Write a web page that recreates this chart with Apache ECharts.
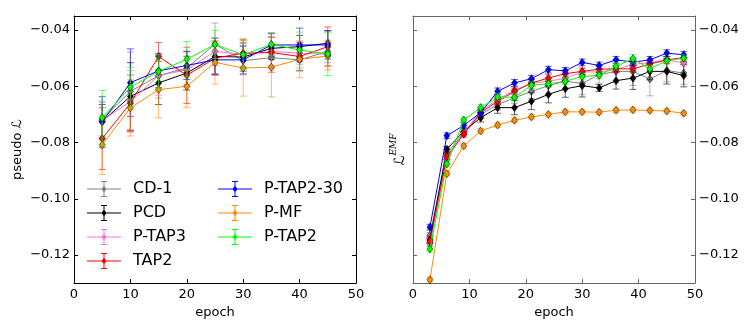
<!DOCTYPE html>
<html>
<head>
<meta charset="utf-8">
<script src="https://cdn.jsdelivr.net/npm/echarts@6/dist/echarts.min.js"></script>
<style>
  html, body { margin: 0; padding: 0; background: #fff; }
  #chart { width: 747px; height: 324px; }
</style>
</head>
<body>
<div id="chart"></div>
<script>
// series names, in plotting order
const names = ['CD-1', 'PCD', 'P-TAP3', 'TAP2', 'P-TAP2-30', 'P-MF', 'P-TAP2'];
const colors = ['#808080', '#000000', '#ff70d0', '#ff0000', '#0000ff', '#ff8c00', '#00ff00'];

// left panel: pseudo likelihood
const epochsLeft = [5, 10, 15, 20, 25, 30, 35, 40, 45];
const pseudoCD1 = [-0.0717, -0.0618, -0.0562, -0.0535, -0.0450, -0.0509, -0.0498, -0.0506, -0.0476];
const pseudoPCD = [-0.0725, -0.0636, -0.0588, -0.0553, -0.0494, -0.0496, -0.0465, -0.0459, -0.0447];
const pseudoPTAP3 = [-0.0722, -0.0654, -0.0562, -0.0541, -0.0476, -0.0486, -0.0476, -0.0482, -0.0486];
const pseudoTAP2 = [-0.0786, -0.0660, -0.0494, -0.0561, -0.0500, -0.0482, -0.0480, -0.0494, -0.0459];
const pseudoPTAP230 = [-0.0727, -0.0587, -0.0545, -0.0526, -0.0506, -0.0506, -0.0453, -0.0453, -0.0453];
const pseudoPMF = [-0.0808, -0.0677, -0.0612, -0.0600, -0.0515, -0.0535, -0.0532, -0.0504, -0.0492];
const pseudoPTAP2 = [-0.0712, -0.0603, -0.0547, -0.0504, -0.0451, -0.0488, -0.0451, -0.0471, -0.0485];

const pseudoErrCD1 = [0.006, 0.014, 0.008, 0.006, 0.0075, 0.005, 0.004, 0.004, 0.004];
const pseudoErrPCD = [0.006, 0.012, 0.0077, 0.006, 0.0065, 0.005, 0.004, 0.004, 0.0045];
const pseudoErrPTAP3 = [0.007, 0.011, 0.007, 0.006, 0.005, 0.005, 0.005, 0.004, 0.004];
const pseudoErrTAP2 = [0.011, 0.010, 0.005, 0.010, 0.006, 0.005, 0.007, 0.005, 0.007];
const pseudoErrPTAP230 = [0.009, 0.012, 0.006, 0.005, 0.005, 0.005, 0.004, 0.006, 0.005];
const pseudoErrPMF = [0.0105, 0.010, 0.010, 0.0076, 0.0077, 0.010, 0.0106, 0.0066, 0.005];
const pseudoErrPTAP2 = [0.0097, 0.007, 0.006, 0.0063, 0.005, 0.005, 0.004, 0.0064, 0.0077];

// right panel: EMF likelihood
const epochsRight = [3, 6, 9, 12, 15, 18, 21, 24, 27, 30, 33, 36, 39, 42, 45, 48];
const emfCD1 = [-0.1130, -0.0840, -0.0765, -0.0700, -0.0665, -0.0641, -0.0618, -0.0598, -0.0582, -0.0590, -0.0559, -0.0547, -0.0547, -0.0574, -0.0544, -0.0553];
const emfPCD = [-0.1146, -0.0824, -0.0760, -0.0712, -0.0676, -0.0676, -0.0653, -0.0629, -0.0609, -0.0598, -0.0606, -0.0580, -0.0571, -0.0547, -0.0547, -0.0562];
const emfPTAP3 = [-0.1160, -0.0860, -0.0765, -0.0688, -0.0647, -0.0614, -0.0590, -0.0582, -0.0572, -0.0549, -0.0549, -0.0540, -0.0522, -0.0516, -0.0507, -0.0516];
const emfTAP2 = [-0.1150, -0.0850, -0.0771, -0.0694, -0.0653, -0.0618, -0.0588, -0.0571, -0.0555, -0.0547, -0.0539, -0.0538, -0.0538, -0.0521, -0.0506, -0.0498];
const emfPTAP230 = [-0.1101, -0.0776, -0.0739, -0.0694, -0.0618, -0.0588, -0.0573, -0.0541, -0.0545, -0.0515, -0.0526, -0.0506, -0.0514, -0.0506, -0.0482, -0.0488];
const emfPMF = [-0.1288, -0.0911, -0.0812, -0.0759, -0.0738, -0.0721, -0.0709, -0.0700, -0.0691, -0.0691, -0.0692, -0.0685, -0.0684, -0.0686, -0.0688, -0.0696];
const emfPTAP2 = [-0.1179, -0.0876, -0.0720, -0.0676, -0.0638, -0.0639, -0.0596, -0.0591, -0.0582, -0.0565, -0.0561, -0.0529, -0.0502, -0.0538, -0.0509, -0.0500];

const emfErrCD1 = [0.001, 0.001, 0.0012, 0.0015, 0.002, 0.002, 0.0025, 0.003, 0.003, 0.004, 0.003, 0.004, 0.005, 0.006, 0.004, 0.004];
const emfErrPCD = [0.001, 0.001, 0.0012, 0.0015, 0.002, 0.0025, 0.003, 0.003, 0.003, 0.004, 0.0012, 0.003, 0.004, 0.003, 0.0045, 0.004];
const emfErrPTAP3 = [0.001, 0.001, 0.001, 0.0012, 0.0012, 0.0012, 0.0012, 0.0012, 0.0012, 0.0012, 0.0012, 0.0012, 0.0012, 0.0012, 0.0012, 0.0012];
const emfErrTAP2 = [0.001, 0.001, 0.001, 0.0012, 0.0012, 0.0012, 0.0012, 0.0012, 0.0012, 0.0012, 0.0012, 0.0012, 0.0012, 0.0012, 0.0012, 0.0012];
const emfErrPTAP230 = [0.001, 0.001, 0.001, 0.0012, 0.0012, 0.0012, 0.0012, 0.0012, 0.0012, 0.0012, 0.0012, 0.0012, 0.0012, 0.0012, 0.0012, 0.0012];
const emfErrPMF = [0.0008, 0.0008, 0.0008, 0.0008, 0.0008, 0.0008, 0.0008, 0.0008, 0.0008, 0.0008, 0.0008, 0.0008, 0.0008, 0.0008, 0.0008, 0.0008];
const emfErrPTAP2 = [0.001, 0.001, 0.001, 0.0012, 0.0012, 0.0012, 0.0012, 0.0012, 0.0012, 0.0012, 0.0012, 0.0012, 0.0015, 0.0012, 0.0012, 0.0012];

const xTicks = [0, 10, 20, 30, 40, 50];
const yTicks = [-0.12, -0.10, -0.08, -0.06, -0.04];

const leftVals = [pseudoCD1, pseudoPCD, pseudoPTAP3, pseudoTAP2, pseudoPTAP230, pseudoPMF, pseudoPTAP2];
const leftErrs = [pseudoErrCD1, pseudoErrPCD, pseudoErrPTAP3, pseudoErrTAP2, pseudoErrPTAP230, pseudoErrPMF, pseudoErrPTAP2];
const rightVals = [emfCD1, emfPCD, emfPTAP3, emfTAP2, emfPTAP230, emfPMF, emfPTAP2];
const rightErrs = [emfErrCD1, emfErrPCD, emfErrPTAP3, emfErrTAP2, emfErrPTAP230, emfErrPMF, emfErrPTAP2];

const font = 'DejaVu Sans';
const legendIcon = 'path://M0 7.5H34V8.5H0Z M16.5 0H17.5V16H16.5Z M14 0H20V1H14Z M14 15H20V16H14Z M17 4.5L19.5 8L17 11.5L14.5 8Z';

function fmtY(v) {
  return v.toFixed(2).replace('-', '\u2212');
}

function xAxis(grid, bottom, frame) {
  return {
    type: 'value', gridIndex: grid, position: bottom ? 'bottom' : 'top',
    min: 0, max: 50, interval: 10,
    axisLine: { show: true, onZero: false, lineStyle: { color: frame, width: 1 } },
    axisTick: { show: true, inside: true, length: 4, lineStyle: { color: frame } },
    axisLabel: { show: bottom, margin: 5, color: '#000', fontFamily: font, fontSize: 13 },
    splitLine: { show: false },
    name: bottom ? 'epoch' : '', nameLocation: 'middle', nameGap: 21,
    nameTextStyle: { color: '#000', fontFamily: font, fontSize: 13 }
  };
}

function yAxis(grid, left, labels, frame) {
  return {
    type: 'value', gridIndex: grid, position: left ? 'left' : 'right',
    min: -0.13, max: -0.035,
    axisLine: { show: true, onZero: false, lineStyle: { color: frame, width: 1 } },
    axisTick: { show: true, inside: true, length: 4, customValues: yTicks, lineStyle: { color: frame } },
    axisLabel: { show: labels, customValues: yTicks, margin: 4, color: '#000', fontFamily: font, fontSize: 13, formatter: fmtY },
    splitLine: { show: false }
  };
}

function errRender(color) {
  return function (params, api) {
    const x = api.value(0), y = api.value(1), e = api.value(2);
    const lo = api.coord([x, y - e]);
    const hi = api.coord([x, y + e]);
    const st = { stroke: color, lineWidth: 1, opacity: 0.6 };
    return {
      type: 'group',
      children: [
        { type: 'line', shape: { x1: lo[0], y1: lo[1], x2: hi[0], y2: hi[1] }, style: st },
        { type: 'line', shape: { x1: lo[0] - 3.5, y1: lo[1], x2: lo[0] + 3.5, y2: lo[1] }, style: st },
        { type: 'line', shape: { x1: hi[0] - 3.5, y1: hi[1], x2: hi[0] + 3.5, y2: hi[1] }, style: st }
      ]
    };
  };
}

const series = [];
function addPanel(grid, xs, vals, errs, yIdx) {
  names.forEach(function (name, i) {
    series.push({
      type: 'custom', xAxisIndex: grid * 2, yAxisIndex: yIdx, z: 2 + i * 2,
      renderItem: errRender(colors[i]), silent: true,
      encode: { x: 0, y: 1 },
      data: xs.map(function (x, j) { return [x, vals[i][j], errs[i][j]]; })
    });
    series.push({
      name: name, type: 'line', xAxisIndex: grid * 2, yAxisIndex: yIdx, z: 3 + i * 2,
      symbol: 'diamond', symbolSize: [6, 8], showSymbol: true,
      lineStyle: { color: colors[i], width: 1 },
      itemStyle: { color: colors[i], borderColor: '#000', borderWidth: 0.5 },
      emphasis: { disabled: true },
      animation: false,
      data: xs.map(function (x, j) { return [x, vals[i][j]]; })
    });
  });
}
addPanel(0, epochsLeft, leftVals, leftErrs, 0);
addPanel(1, epochsRight, rightVals, rightErrs, 2);

function legend(left, data) {
  return {
    orient: 'vertical', left: left, top: 181, padding: 0,
    itemWidth: 34, itemHeight: 16, itemGap: 8,
    icon: legendIcon, data: data, selectedMode: false,
    itemStyle: { borderWidth: 0 },
    textStyle: { color: '#000', fontFamily: font, fontSize: 16, padding: [0, 0, 0, 7] }
  };
}

const yAxes = [
  yAxis(0, true, true, '#000'),
  yAxis(0, false, false, '#000'),
  yAxis(1, true, false, '#666'),
  yAxis(1, false, true, '#666')
];
yAxes[0].name = 'pseudo \u2112';
yAxes[0].nameLocation = 'middle';
yAxes[0].nameGap = 50;
yAxes[0].nameTextStyle = { color: '#000', fontFamily: font, fontSize: 13 };
yAxes[2].name = '{a|\u2112}{b|EMF}';
yAxes[2].nameLocation = 'middle';
yAxes[2].nameGap = 6;
yAxes[2].nameTextStyle = {
  color: '#000',
  rich: {
    a: { fontFamily: 'DejaVu Sans', fontStyle: 'italic', fontSize: 14, lineHeight: 18, verticalAlign: 'bottom' },
    b: { fontFamily: 'DejaVu Serif', fontStyle: 'italic', fontSize: 9, lineHeight: 18, verticalAlign: 'top' }
  }
};

const chart = echarts.init(document.getElementById('chart'));
chart.setOption({
  backgroundColor: '#fff',
  animation: false,
  grid: [
    { left: 74, top: 16, width: 282, height: 268 },
    { left: 413, top: 16, width: 282, height: 268 }
  ],
  legend: [legend(87, names.slice(0, 4)), legend(218, names.slice(4))],
  xAxis: [xAxis(0, true, '#000'), xAxis(0, false, '#000'), xAxis(1, true, '#666'), xAxis(1, false, '#666')],
  yAxis: yAxes,
  series: series
});
</script>
</body>
</html>
